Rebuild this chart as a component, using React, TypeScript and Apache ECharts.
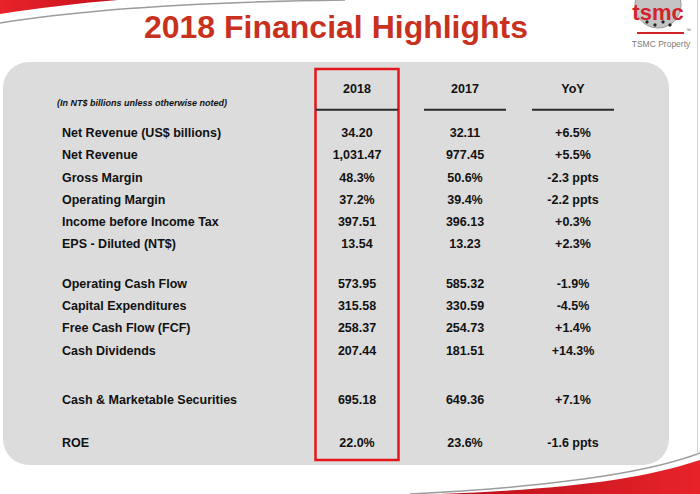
import React, { useEffect, useRef } from "react";
import * as echarts from "echarts";

// ---------- data ----------
const columns = ["Metric", "2018", "2017", "YoY"];
const metrics = [
  "Net Revenue (US$ billions)",
  "Net Revenue",
  "Gross Margin",
  "Operating Margin",
  "Income before Income Tax",
  "EPS - Diluted (NT$)",
  "Operating Cash Flow",
  "Capital Expenditures",
  "Free Cash Flow (FCF)",
  "Cash Dividends",
  "Cash & Marketable Securities",
  "ROE",
];
const isPercentRow = [false, false, true, true, false, false, false, false, false, false, false, true];
const values2018 = [34.2, 1031.47, 48.3, 37.2, 397.51, 13.54, 573.95, 315.58, 258.37, 207.44, 695.18, 22.0];
const values2017 = [32.11, 977.45, 50.6, 39.4, 396.13, 13.23, 585.32, 330.59, 254.73, 181.51, 649.36, 23.6];
const yoyChange = [6.5, 5.5, -2.3, -2.2, 0.3, 2.3, -1.9, -4.5, 1.4, 14.3, 7.1, -1.6];
const unitNote = "(In NT$ billions unless otherwise noted)";
const titleText = "2018 Financial Highlights";

// ---------- layout (row slots on the hidden y axis) ----------
const rowSlot = [0, 0.97, 2, 3, 4, 5, 6.83, 7.8, 8.8, 9.83, 12.07, 14.03];
const HEADER_SLOT = -2;
const NOTE_SLOT = -1.38;
const UNDERLINE_SLOT = -1.06;
const BOX_TOP = -2.91;
const BOX_BOTTOM = 14.78;

const FONT = '"Liberation Sans", Arial, Helvetica, sans-serif';
const RED = "#e3161b";

function fmtValue(v: number, pct: boolean) {
  if (pct) return v.toFixed(1) + "%";
  return v.toLocaleString("en-US", { minimumFractionDigits: 2, maximumFractionDigits: 2 });
}
function fmtYoy(v: number, pct: boolean) {
  const s = (v > 0 ? "+" : "") + v.toFixed(1);
  return pct ? s + " ppts" : s + "%";
}

type Cell = { col: number; slot: number; text: string; kind: string };

function buildCells(): Cell[] {
  const cells: Cell[] = [];
  cells.push({ col: 1, slot: BOX_TOP, text: "", kind: "box" });
  cells.push({ col: 0, slot: NOTE_SLOT, text: unitNote, kind: "note" });
  for (let c = 1; c < columns.length; c++) {
    cells.push({ col: c, slot: HEADER_SLOT, text: columns[c], kind: "header" });
  }
  metrics.forEach((m, i) => {
    const pct = isPercentRow[i];
    cells.push({ col: 0, slot: rowSlot[i], text: m, kind: "label" });
    cells.push({ col: 1, slot: rowSlot[i], text: fmtValue(values2018[i], pct), kind: "value" });
    cells.push({ col: 2, slot: rowSlot[i], text: fmtValue(values2017[i], pct), kind: "value" });
    cells.push({ col: 3, slot: rowSlot[i], text: fmtYoy(yoyChange[i], pct), kind: "value" });
  });
  return cells;
}

export default function App() {
  const ref = useRef<HTMLDivElement>(null);

  useEffect(() => {
    const el = ref.current;
    if (!el) return;
    echarts.graphic.registerShape(
      "swooshTopLeft",
      echarts.graphic.extendPath("M0,0 L118,0 C80,3 38,8 0,14 Z", {})
    );
    echarts.graphic.registerShape(
      "swooshBottomRight",
      echarts.graphic.extendPath("M440,494 C545,490 635,482 700,460 L700,494 Z", {})
    );
    const chart = echarts.init(el, null, { renderer: "svg" });
    const cells = buildCells();

    const redGrad = new echarts.graphic.LinearGradient(0, 0, 1, 0, [
      { offset: 0, color: "#e8232a" },
      { offset: 1, color: "#c3101a" },
    ]);
    const redGrad2 = new echarts.graphic.LinearGradient(0, 0, 1, 0, [
      { offset: 0, color: "#b80f18" },
      { offset: 1, color: "#e8232a" },
    ]);

    const option: any = {
      animation: false,
      backgroundColor: "#ffffff",
      grid: { left: 195, right: 73, top: 67, bottom: 29.2 },
      xAxis: { type: "category", data: columns, show: false },
      yAxis: { type: "value", min: -3, max: 15, inverse: true, show: false },
      graphic: [
        {
          type: "rect",
          z: 0,
          shape: { x: 3, y: 62, width: 666, height: 403, r: 26 },
          style: { fill: "#dcdcdc" },
        },
        { type: "swooshTopLeft", z: 1, x: 0, y: 0, style: { fill: redGrad } },
        {
          type: "bezierCurve",
          z: 1,
          shape: { x1: 0, y1: 23, cpx1: 80, cpy1: 10, cpx2: 200, cpy2: 2, x2: 345, y2: 0 },
          style: { stroke: "#9c9c9c", lineWidth: 1.5, fill: "none" },
        },
        { type: "swooshBottomRight", z: 1, x: 0, y: 0, style: { fill: redGrad2 } },
        {
          type: "bezierCurve",
          z: 1,
          shape: { x1: 410, y1: 494, cpx1: 530, cpy1: 488, cpx2: 640, cpy2: 476, x2: 700, y2: 453 },
          style: { stroke: "#9c9c9c", lineWidth: 1.5, fill: "none" },
        },
        {
          type: "line",
          z: 1,
          shape: { x1: 697.5, y1: 0, x2: 697.5, y2: 456 },
          style: { stroke: "#d4d4d4", lineWidth: 1 },
        },
        {
          type: "text",
          z: 5,
          x: 336,
          y: 27,
          style: {
            text: titleText,
            fill: "#c9311f",
            font: `bold 32px ${FONT}`,
            align: "center",
            verticalAlign: "middle",
          },
        },
        // logo
        {
          type: "group",
          z: 5,
          children: [
            {
              type: "circle",
              shape: { cx: 658, cy: 5, r: 23 },
              style: { fill: "#c4c4c4", stroke: "#9a9a9a", lineWidth: 1 },
            },
            { type: "circle", shape: { cx: 647, cy: 22, r: 1.6 }, style: { fill: "#222" } },
            { type: "circle", shape: { cx: 655, cy: 25, r: 1.6 }, style: { fill: "#222" } },
            { type: "circle", shape: { cx: 663, cy: 22, r: 1.6 }, style: { fill: "#222" } },
            { type: "circle", shape: { cx: 670, cy: 25, r: 1.6 }, style: { fill: "#222" } },
            {
              type: "text",
              x: 658,
              y: 12,
              style: {
                text: "tsmc",
                fill: "#d2232a",
                font: `bold 22px ${FONT}`,
                align: "center",
                verticalAlign: "middle",
              },
            },
            {
              type: "line",
              shape: { x1: 637, y1: 33, x2: 684, y2: 33 },
              style: { stroke: "#d2232a", lineWidth: 2 },
            },
            {
              type: "text",
              x: 686,
              y: 30,
              style: { text: "™", fill: "#555", font: `5px ${FONT}`, align: "left", verticalAlign: "middle" },
            },
            {
              type: "text",
              x: 661,
              y: 44,
              style: {
                text: "TSMC Property",
                fill: "#7a7a7a",
                font: `8.5px ${FONT}`,
                align: "center",
                verticalAlign: "middle",
              },
            },
          ],
        },
      ],
      series: [
        {
          type: "custom",
          z: 3,
          clip: false,
          data: cells.map((c) => [c.col, c.slot]),
          renderItem: (params: any, api: any) => {
            const cell = cells[params.dataIndex];
            const pt = api.coord([cell.col, cell.slot]);
            const band = api.size([1, 0])[0];
            if (cell.kind === "box") {
              const bottom = api.coord([cell.col, BOX_BOTTOM]);
              return {
                type: "rect",
                shape: { x: pt[0] - 41.5, y: pt[1], width: 83, height: bottom[1] - pt[1] },
                style: { fill: "none", stroke: RED, lineWidth: 2.5 },
              };
            }
            if (cell.kind === "header") {
              const ly = api.coord([cell.col, UNDERLINE_SLOT])[1];
              return {
                type: "group",
                children: [
                  {
                    type: "text",
                    x: pt[0],
                    y: pt[1],
                    style: {
                      text: cell.text,
                      fill: "#111",
                      font: `bold 12.5px ${FONT}`,
                      align: "center",
                      verticalAlign: "middle",
                    },
                  },
                  {
                    type: "line",
                    shape: { x1: pt[0] - 41, y1: ly, x2: pt[0] + 41, y2: ly },
                    style: { stroke: "#2a2a2a", lineWidth: 2 },
                  },
                ],
              };
            }
            if (cell.kind === "note") {
              return {
                type: "text",
                x: pt[0] - band / 2 - 138,
                y: pt[1],
                style: {
                  text: cell.text,
                  fill: "#111",
                  font: `italic bold 9px ${FONT}`,
                  align: "left",
                  verticalAlign: "middle",
                },
              };
            }
            const isLabel = cell.kind === "label";
            return {
              type: "text",
              x: isLabel ? pt[0] - band / 2 - 133 : pt[0],
              y: pt[1],
              style: {
                text: cell.text,
                fill: "#111",
                font: `bold 12.5px ${FONT}`,
                align: isLabel ? "left" : "center",
                verticalAlign: "middle",
              },
            };
          },
        },
      ],
    };

    chart.setOption(option);
    return () => chart.dispose();
  }, []);

  return (
    <div
      ref={ref}
      style={{ position: "fixed", left: 0, top: 0, width: 700, height: 494 }}
    />
  );
}
